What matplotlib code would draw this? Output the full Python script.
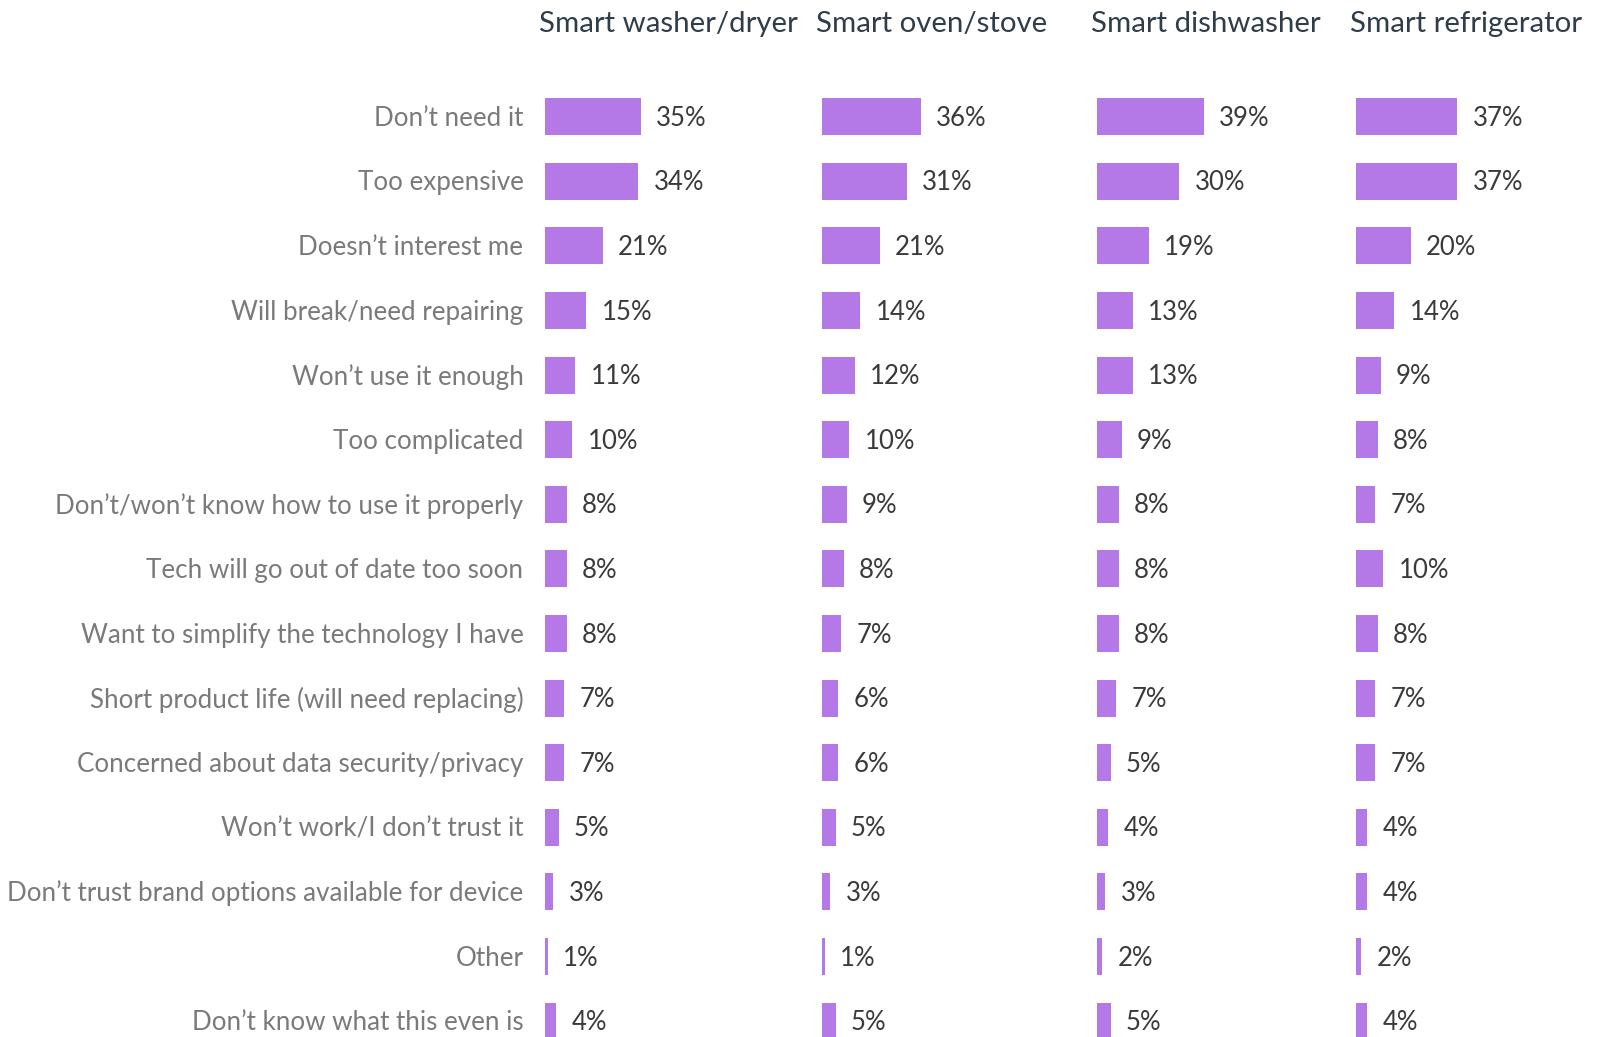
import matplotlib
matplotlib.use("Agg")
import matplotlib.pyplot as plt

plt.rcParams['font.family'] = ['Lato', 'DejaVu Sans']

reasons = [
    "Don’t need it",
    "Too expensive",
    "Doesn’t interest me",
    "Will break/need repairing",
    "Won’t use it enough",
    "Too complicated",
    "Don’t/won’t know how to use it properly",
    "Tech will go out of date too soon",
    "Want to simplify the technology I have",
    "Short product life (will need replacing)",
    "Concerned about data security/privacy",
    "Won’t work/I don’t trust it",
    "Don’t trust brand options available for device",
    "Other",
    "Don’t know what this even is",
]

devices = ["Smart washer/dryer", "Smart oven/stove", "Smart dishwasher", "Smart refrigerator"]

washer_dryer = [35, 34, 21, 15, 11, 10, 8, 8, 8, 7, 7, 5, 3, 1, 4]
oven_stove = [36, 31, 21, 14, 12, 10, 9, 8, 7, 6, 6, 5, 3, 1, 5]
dishwasher = [39, 30, 19, 13, 13, 9, 8, 8, 8, 7, 5, 4, 3, 2, 5]
refrigerator = [37, 37, 20, 14, 9, 8, 7, 10, 8, 7, 7, 4, 4, 2, 4]

series = [washer_dryer, oven_stove, dishwasher, refrigerator]

BAR = "#B479E6"
TITLE = "#2F3D4A"
CAT = "#7A7A7A"
VAL = "#3A3A3A"

W, H = 1606, 1037
fig = plt.figure(figsize=(W / 100, H / 100), dpi=100)

# panel layout in pixels
panel_x0 = [545, 822, 1097, 1356]
px_per_pct = 2.74
xmax = 60
first_row_y = 116.7
row_step = 64.6
n = len(reasons)
y_top = -first_row_y / row_step
y_bot = (H - first_row_y) / row_step

for i, (x0, vals, name) in enumerate(zip(panel_x0, series, devices)):
    ax = fig.add_axes([x0 / W, 0, xmax * px_per_pct / W, 1])
    ax.set_xlim(0, xmax)
    ax.set_ylim(y_bot, y_top)
    ax.axis("off")
    rows = list(range(n))
    ax.barh(rows, vals, height=0.57, color=BAR, edgecolor="none")
    for r, v in zip(rows, vals):
        ax.annotate(f"{v}%", (v, r), xytext=(11, -1.2), textcoords="offset points",
                    ha="left", va="center", fontsize=18.5, color=VAL)
    fig.text((x0 - 6) / W, 1 - 32 / H, name, ha="left", va="baseline",
             fontsize=21.2, color=TITLE)
    if i == 0:
        for r, lab in zip(rows, reasons):
            ax.annotate(lab, (0, r), xytext=(-15.5, -1.2), textcoords="offset points",
                        ha="right", va="center", fontsize=18.7, color=CAT)

fig.savefig("out.png", dpi=100)
